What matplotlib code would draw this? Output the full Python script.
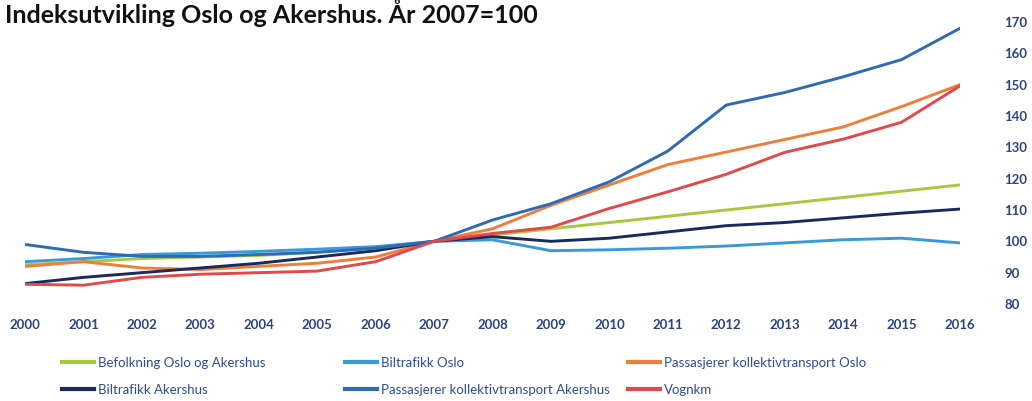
import matplotlib
matplotlib.use("Agg")
import matplotlib.pyplot as plt
from matplotlib.lines import Line2D

plt.rcParams['font.family'] = ['Lato', 'DejaVu Sans']

years = list(range(2000, 2017))
befolkning = [92.5, 93.5, 94.5, 95.0, 95.5, 96.5, 98.0, 100, 102, 104, 106, 108, 110, 112, 114, 116, 118]
biltrafikk_oslo = [93.5, 94.5, 95.8, 96.2, 96.8, 97.5, 98.3, 100, 100.5, 97.0, 97.3, 97.8, 98.5, 99.5, 100.5, 101.0, 99.5]
pass_oslo = [92.0, 93.5, 91.5, 91.0, 92.0, 93.0, 95.0, 100, 104, 111.5, 118, 124.5, 128.5, 132.5, 136.5, 143, 150]
bil_akershus = [86.5, 88.5, 90.0, 91.5, 93.0, 95.0, 97.0, 100, 101.5, 100.0, 101.0, 103.0, 105.0, 106.0, 107.5, 109.0, 110.3]
pass_akershus = [99.0, 96.5, 95.2, 95.2, 95.8, 96.5, 97.8, 100, 106.8, 112, 119, 128.8, 143.5, 147.5, 152.5, 158, 168]
vognkm = [86.3, 86.0, 88.5, 89.5, 90.0, 90.5, 93.5, 100, 102.5, 104.5, 110.5, 115.8, 121.4, 128.4, 132.6, 138, 149.6]

series = [
    ("Befolkning Oslo og Akershus", befolkning, "#A6C93F"),
    ("Biltrafikk Oslo", biltrafikk_oslo, "#3A9AD9"),
    ("Passasjerer kollektivtransport Oslo", pass_oslo, "#EF7E3A"),
    ("Biltrafikk Akershus", bil_akershus, "#1B2A5C"),
    ("Passasjerer kollektivtransport Akershus", pass_akershus, "#2F6AB5"),
    ("Vognkm", vognkm, "#E04A4A"),
]

W, H = 1032, 401
fig = plt.figure(figsize=(W / 100, H / 100), dpi=100)
ax = fig.add_axes([25 / W, 97 / H, 935 / W, 282 / H])

for name, vals, col in series:
    ax.plot(years, vals, color=col, lw=2.1, solid_capstyle='round')

ax.set_xlim(2000, 2016)
ax.set_ylim(80, 170)
ax.set_xticks(years)
ax.set_xticklabels([str(y) for y in years])
ax.set_yticks(range(80, 171, 10))
ax.yaxis.tick_right()
tick_color = "#2B4380"
ax.tick_params(axis='x', length=0, pad=11, labelsize=9.5, labelcolor=tick_color)
ax.tick_params(axis='y', length=0, pad=32, labelsize=9.5, labelcolor=tick_color)
for lab in ax.get_xticklabels() + ax.get_yticklabels():
    lab.set_fontweight('bold')
for s in ax.spines.values():
    s.set_visible(False)

fig.text(5 / W, 1 - 23 / H, "Indeksutvikling Oslo og Akershus. År 2007=100",
         fontsize=18, fontweight='bold', color='#111111', va='baseline', ha='left')

# legend: three columns of two entries each
cols = [[0, 3], [1, 4], [2, 5]]
xs = [62, 345, 628]
for xi, idxs in zip(xs, cols):
    handles = [Line2D([], [], color=series[i][2], lw=3) for i in idxs]
    labels = [series[i][0] for i in idxs]
    leg = fig.legend(handles, labels, loc='upper left',
                     bbox_to_anchor=(xi / W, 1 - 357 / H), frameon=False,
                     fontsize=9.5, handlelength=2.4, handletextpad=0.3,
                     labelspacing=1.1, borderaxespad=0, borderpad=0)
    for t in leg.get_texts():
        t.set_color("#2E4C9A")

fig.savefig("out.png", dpi=100)
